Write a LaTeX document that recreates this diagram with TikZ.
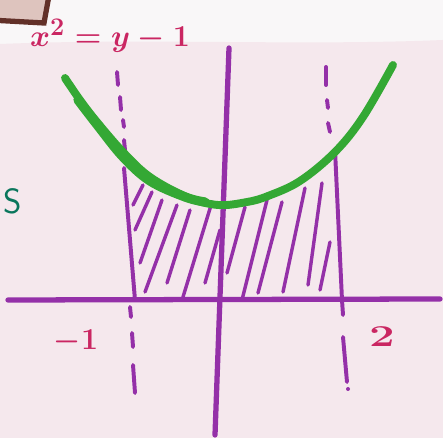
\documentclass[tikz,border=0pt]{standalone}
\definecolor{paper}{RGB}{249,247,248}
\definecolor{wash}{RGB}{245,232,237}
\definecolor{pen}{RGB}{148,48,168}
\definecolor{ink}{RGB}{202,38,98}
\definecolor{marker}{RGB}{52,168,52}
\definecolor{teal}{RGB}{10,118,92}
\definecolor{bark}{RGB}{98,48,40}
\definecolor{card}{RGB}{222,196,190}

\begin{document}
\begin{tikzpicture}[x=0.02cm, y=-0.02cm,
    axis/.style={pen, line width=4pt*0.75, line cap=round},
    bound/.style={pen, line width=3pt*0.75, line cap=round},
    hatch/.style={pen, line width=2.6pt*0.75, line cap=round},
    label/.style={ink, inner sep=0pt, font=\fontsize{19}{21}\selectfont\boldmath}]
    % --- paper ---
    \useasboundingbox (0,0) rectangle (443,438);
    \clip (0,0) rectangle (443,438);
    \fill[paper] (0,0) rectangle (443,438);
    \fill[wash] (0,44) .. controls (150,38) and (300,46) .. (443,40) -- (443,438) -- (0,438) -- cycle;

    % --- card in the corner and stray letter ---
    \draw[bark, fill=card, line width=3pt] (-10,-10) -- (50,-10) -- (44,23) -- (-10,20) -- cycle;
    \node[teal, inner sep=0pt, font=\sffamily\fontsize{20}{20}\selectfont] (s) at (13,201) {S};

    % --- axes ---
    \draw[axis] (8,300) -- (440,299);
    \draw[axis] (229,48) -- (215,435);

    % --- boundary x = -1 ---
    \foreach \a/\b/\c/\d in {117/72/118/85, 120/97/121/110, 123/120/124/127,
                            124/140/125/150, 130/307/131/317, 132/333/133/347,
                            133/365/135/393}
        \draw[bound] (\a,\b) -- (\c,\d);
    \draw[bound] (124,168) -- (135,300);

    % --- boundary x = 2 ---
    \foreach \a/\b/\c/\d in {326/67/326/85, 327/100/328/108, 328/123/330/132,
                            342/300/343/315, 343/337/347/382}
        \draw[bound] (\a,\b) -- (\c,\d);
    \fill[pen] (348,389) circle (2);
    \draw[bound] (335,150) -- (342,300);

    % --- hatching under the curve ---
    \foreach \a/\b/\c/\d in {143/185/133/205, 152/192/135/230, 162/200/140/263,
                            177/205/145/292, 190/210/167/283, 212/202/183/297,
                            220/230/205/283, 245/207/227/273, 267/200/242/300,
                            282/202/258/293, 305/188/283/292, 322/183/308/285,
                            330/242/320/290}
        \draw[hatch] (\a,\b) -- (\c,\d);

    % --- the parabola ---
    \draw[marker, line width=6pt*0.75, line cap=round] plot[smooth, tension=0.6] coordinates {
        (65,78) (80,100) (97,122) (123,152) (150,177) (187,197) (218,205)
        (247,202) (268,196) (300,181) (335,152) (363,117) (393,65)};
    % second stroke, thicker on the left
    \draw[marker, line width=7pt*0.75, line cap=round] plot[smooth, tension=0.6] coordinates {
        (78,100) (98,126) (123,157) (150,181) (185,197) (205,202)};

    % --- labels ---
    \node[label] (eqn) at (110,36) {$x^2=y-1$};
    \node[label] (lft) at (76,342) {$-1$};
    \node[label, xscale=1.5] (rgt) at (382,337) {$2$};

\end{tikzpicture}
\end{document}
